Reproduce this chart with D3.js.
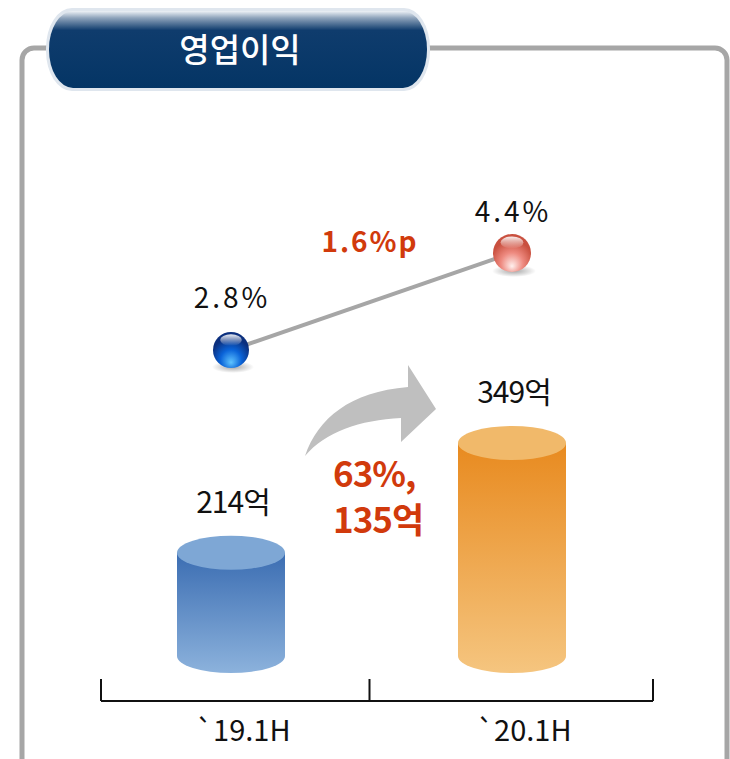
<!DOCTYPE html>
<html lang="ko">
<head>
<meta charset="UTF-8">
<title>영업이익</title>
<script src="https://d3js.org/d3.v7.min.js"></script>
<style>
  body { margin: 0; background: #fff; overflow: hidden; }
  svg { display: block; }
  text { font-family: "Noto Sans CJK KR", "Noto Sans", sans-serif; }
</style>
</head>
<body>
<svg width="730" height="759"></svg>
<script>
// data
const title = "영업이익";
const periods = ["`19.1H", "`20.1H"];
const profit = [214, 349];          // 억
const margin = [2.8, 4.4];          // %
const marginLabels = ["2.8%", "4.4%"];
const profitLabels = ["214억", "349억"];
const marginDelta = "1.6%p";
const growthLines = ["63%,", "135억"];

const svg = d3.select("svg");
const defs = svg.append("defs");

// x: centre of each period
const x = d3.scalePoint().domain(periods).range([231, 512]);
const axisExtent = [101, 653];

// bars (cylinders) - baseline is not zero in the original
const yBar = d3.scaleLinear().domain([87, 349]).range([656, 443]);
// line (margin %)
const yLine = d3.scaleLinear().domain([2.8, 4.4]).range([350, 253]);

// ---- frame
svg.append("rect")
  .attr("x", 22).attr("y", 48).attr("width", 705).attr("height", 760)
  .attr("rx", 12)
  .attr("fill", "none").attr("stroke", "#a6a6a6").attr("stroke-width", 5);

// ---- title pill
const pillG = defs.append("linearGradient").attr("id", "pill").attr("x1", 0).attr("y1", 0).attr("x2", 0).attr("y2", 1);
pillG.append("stop").attr("offset", "0%").attr("stop-color", "#eef2f6");
pillG.append("stop").attr("offset", "9%").attr("stop-color", "#8ea3bb");
pillG.append("stop").attr("offset", "25%").attr("stop-color", "#0f3c6d");
pillG.append("stop").attr("offset", "100%").attr("stop-color", "#043565");

svg.append("rect")
  .attr("x", 46).attr("y", 8).attr("width", 384).attr("height", 83)
  .attr("rx", 26).attr("ry", 40)
  .attr("fill", "#dfe6ee");
svg.append("rect")
  .attr("x", 49).attr("y", 11).attr("width", 378).attr("height", 77)
  .attr("rx", 24).attr("ry", 38)
  .attr("fill", "url(#pill)");

svg.append("text")
  .attr("x", 240).attr("y", 62)
  .attr("text-anchor", "middle")
  .attr("font-size", 33).attr("font-weight", 500)
  .attr("fill", "#fff")
  .text(title);

// ---- x axis
const axisY = 701;
svg.append("line")
  .attr("x1", axisExtent[0]).attr("x2", axisExtent[1]).attr("y1", axisY).attr("y2", axisY)
  .attr("stroke", "#111").attr("stroke-width", 2);
const tickXs = [axisExtent[0], (x(periods[0]) + x(periods[1])) / 2 - 2, axisExtent[1]];
svg.selectAll(".tick").data(tickXs).join("line")
  .attr("x1", d => d).attr("x2", d => d)
  .attr("y1", 679).attr("y2", axisY)
  .attr("stroke", "#111").attr("stroke-width", 2);

svg.selectAll(".xlab").data(periods).join("text")
  .attr("x", d => x(d) + 12).attr("y", 741)
  .attr("text-anchor", "middle")
  .attr("font-size", 29).attr("fill", "#111")
  .text(d => d);

// ---- cylinders
const colors = [
  { top: "#7ea7d5", body: ["#3b6db2", "#8cb2dc"] },
  { top: "#f1b96a", body: ["#e88a1f", "#f5c57f"] }
];
colors.forEach((c, i) => {
  const g = defs.append("linearGradient").attr("id", "cyl" + i)
    .attr("x1", 0).attr("y1", 0).attr("x2", 0).attr("y2", 1);
  g.append("stop").attr("offset", "0%").attr("stop-color", c.body[0]);
  g.append("stop").attr("offset", "100%").attr("stop-color", c.body[1]);
});

const rx = 54, ry = 17;
const base = yBar.range()[0];
const cyl = svg.selectAll(".cyl").data(periods).join("g");
cyl.append("path")
  .attr("d", (d, i) => {
    const c = x(d), t = yBar(profit[i]);
    return `M${c - rx},${t} L${c - rx},${base} A${rx},${ry} 0 0 0 ${c + rx},${base} L${c + rx},${t} Z`;
  })
  .attr("fill", (d, i) => `url(#cyl${i})`);
cyl.append("ellipse")
  .attr("cx", d => x(d))
  .attr("cy", (d, i) => yBar(profit[i]))
  .attr("rx", rx).attr("ry", ry)
  .attr("fill", (d, i) => colors[i].top);

svg.selectAll(".plab").data(periods).join("text")
  .attr("x", d => x(d) + 2)
  .attr("y", (d, i) => yBar(profit[i]) - 40)
  .attr("text-anchor", "middle")
  .attr("font-size", 30).attr("fill", "#111")
  .attr("letter-spacing", -1)
  .text((d, i) => profitLabels[i]);

// ---- growth arrow
svg.append("path")
  .attr("d", "M305,456 C318,418 350,392 408,387 L408,365 L436,409 L401,442 L401,418 C360,420 325,432 305,456 Z")
  .attr("fill", "#bfbfbf");

svg.append("text")
  .attr("x", 333).attr("y", 487)
  .attr("font-size", 35).attr("font-weight", 700)
  .attr("fill", "#d13a0c")
  .attr("letter-spacing", -1)
  .selectAll("tspan").data(growthLines).join("tspan")
  .attr("x", 333).attr("dy", (d, i) => i ? 46 : 0)
  .text(d => d);

// ---- margin line with glossy balls
svg.append("line")
  .attr("x1", x(periods[0])).attr("y1", yLine(margin[0]))
  .attr("x2", x(periods[1])).attr("y2", yLine(margin[1]))
  .attr("stroke", "#a6a6a6").attr("stroke-width", 4);

const balls = [
  { edge: "#0b2f7e", mid: "#0a63d8", light: "#5fc4ff" },
  { edge: "#c9503f", mid: "#ee8a80", light: "#fff0ee" }
];
balls.forEach((b, i) => {
  const g = defs.append("radialGradient").attr("id", "ball" + i)
    .attr("cx", "50%").attr("cy", "70%").attr("r", "65%").attr("fx", "50%").attr("fy", "85%");
  g.append("stop").attr("offset", "0%").attr("stop-color", b.light);
  g.append("stop").attr("offset", "45%").attr("stop-color", b.mid);
  g.append("stop").attr("offset", "85%").attr("stop-color", b.edge);
  const s = defs.append("radialGradient").attr("id", "shadow" + i);
  s.append("stop").attr("offset", "0%").attr("stop-color", "#000").attr("stop-opacity", 0.35);
  s.append("stop").attr("offset", "100%").attr("stop-color", "#000").attr("stop-opacity", 0);
  const h = defs.append("linearGradient").attr("id", "hl" + i).attr("x1", 0).attr("y1", 0).attr("x2", 0).attr("y2", 1);
  h.append("stop").attr("offset", "0%").attr("stop-color", "#fff").attr("stop-opacity", 0.9);
  h.append("stop").attr("offset", "100%").attr("stop-color", "#fff").attr("stop-opacity", 0);
});

const ballR = [18, 19];
const labelGap = [42, 31];
const ballG = svg.selectAll(".ball").data(periods).join("g")
  .attr("transform", (d, i) => `translate(${x(d)},${yLine(margin[i])})`);
ballG.append("ellipse")
  .attr("cx", 2).attr("cy", (d, i) => ballR[i] - 1)
  .attr("rx", (d, i) => ballR[i] + 3).attr("ry", 6)
  .attr("fill", (d, i) => `url(#shadow${i})`);
ballG.append("circle")
  .attr("r", (d, i) => ballR[i])
  .attr("fill", (d, i) => `url(#ball${i})`);
ballG.append("ellipse")
  .attr("cy", (d, i) => -ballR[i] * 0.55)
  .attr("rx", (d, i) => ballR[i] * 0.6).attr("ry", (d, i) => ballR[i] * 0.32)
  .attr("fill", (d, i) => `url(#hl${i})`);

svg.selectAll(".mlab").data(periods).join("text")
  .attr("x", d => x(d) + 1)
  .attr("y", (d, i) => yLine(margin[i]) - labelGap[i])
  .attr("text-anchor", "middle")
  .attr("font-size", 28).attr("fill", "#111")
  .attr("letter-spacing", 3)
  .text((d, i) => marginLabels[i]);

svg.append("text")
  .attr("x", 370).attr("y", 252)
  .attr("text-anchor", "middle")
  .attr("font-size", 28).attr("font-weight", 700)
  .attr("fill", "#d13a0c")
  .attr("letter-spacing", 2)
  .text(marginDelta);
</script>
</body>
</html>
